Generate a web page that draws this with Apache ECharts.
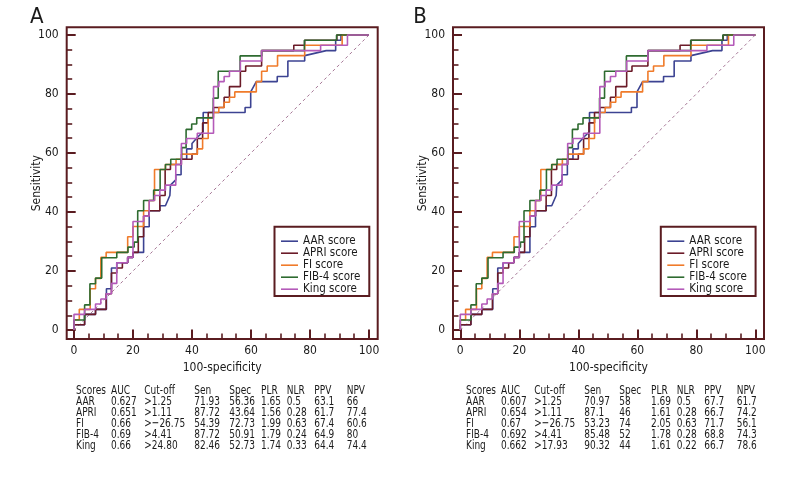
<!DOCTYPE html>
<html><head><meta charset="utf-8">
<script src="https://cdn.jsdelivr.net/npm/echarts@6/dist/echarts.min.js"></script>
<style>html,body{margin:0;padding:0;background:#fff}#c{width:792px;height:480px}</style>
</head><body><div id="c"></div>
<script>
// ---------------- data ----------------
const seriesNames = ['AAR score', 'APRI score', 'FI score', 'FIB-4 score', 'King score'];
const panelLabels = ['A', 'B'];

const rocAAR = [[0,0],[0,1.8],[3.6,1.8],[3.6,5.3],[7.3,5.3],[7.3,7],[11,7],[11,14],[12.7,14],[12.7,21],[14.5,21],[14.5,22.8],[18.2,22.8],[18.2,24.6],[20,24.6],[20,26.3],[23.6,26.3],[23.6,35],[25.5,35],[25.5,40.4],[29.1,40.4],[29.1,42.1],[31,42.1],[32.5,45.6],[32.7,49.1],[34.5,50.9],[34.5,52.6],[36.3,52.6],[36.3,57.9],[38.2,57.9],[38.2,61.4],[40,61.4],[40,63.2],[42,65.5],[43.8,67.2],[43.8,73.7],[58,73.7],[58,75.4],[59.9,75.4],[59.9,80.7],[61.8,84.2],[68.9,84.2],[68.9,85.9],[72.5,85.9],[72.5,91.2],[78.2,91.2],[78.2,93],[85.5,94.7],[88.7,94.7],[88.7,98.2],[90.5,98.2],[90.5,100],[100,100]];
const rocAPRI = [[0,0],[0,1.8],[3.6,1.8],[3.6,5.3],[7.3,5.3],[7.3,7],[10.9,7],[10.9,12.3],[12.7,12.3],[12.7,19.3],[14.5,19.3],[14.5,21],[16.4,21],[16.4,22.8],[18.2,22.8],[18.2,24.6],[20,24.6],[20,26.3],[21.8,26.3],[21.8,31.6],[23.6,31.6],[23.6,38.6],[25.5,38.6],[25.5,40.4],[29.1,40.4],[29.1,45.6],[30.9,45.6],[30.9,54.4],[32.7,54.4],[32.7,56.1],[36.4,56.1],[36.4,57.9],[40,57.9],[40,59.6],[41.8,59.6],[41.8,64.9],[43.6,64.9],[43.6,70.2],[45.5,70.2],[45.5,73.7],[47.3,73.7],[47.3,75.4],[50.9,75.4],[50.9,78.9],[52.7,78.9],[52.7,82.5],[56.4,82.5],[56.4,87.7],[58.2,87.7],[58.2,89.5],[63.6,89.5],[63.6,94.7],[74.5,94.7],[74.5,96.5],[78.2,96.5],[78.2,98.2],[89.1,98.2],[89.1,100],[100,100]];
const rocFI = [[0,0],[0,3.5],[1.8,3.5],[1.8,7],[5.5,7],[5.5,14],[7.3,14],[7.3,17.5],[9.1,17.5],[9.1,24.6],[10.9,24.6],[10.9,26.3],[14.5,26.3],[18.2,26.3],[18.2,31.6],[20,31.6],[20,35.1],[23.6,35.1],[23.6,40.4],[25.5,40.4],[25.5,43.9],[27.3,43.9],[27.3,54.4],[31,54.4],[31,56.1],[34.6,56.1],[34.6,57.9],[36.4,57.9],[36.4,59.6],[41.8,59.6],[41.8,61.4],[43.6,61.4],[43.6,64.9],[45.5,64.9],[45.5,72],[47.3,72],[47.3,73.7],[49.1,73.7],[49.1,75.4],[50.9,75.4],[50.9,77.2],[52.7,77.2],[52.7,78.9],[54.5,78.9],[54.5,80.7],[61.8,80.7],[61.8,84.2],[63.6,84.2],[63.6,87.7],[65.5,87.7],[65.5,89.5],[69,89.5],[69,93],[78.2,93],[78.2,96.5],[90.9,96.5],[90.9,100],[100,100]];
const rocFIB4 = [[0,0],[0,3.4],[3.6,3.4],[3.6,8.5],[5.4,8.5],[5.4,15.7],[7.3,15.7],[7.3,17.6],[9.4,17.6],[9.4,24.5],[14.5,24.5],[14.5,26.3],[18.3,26.3],[18.3,28.1],[20.4,28.1],[20.4,29.8],[21.6,29.8],[21.6,40.4],[23.6,40.4],[23.6,43.9],[27,43.9],[27,47.4],[29.2,47.4],[29.2,54.4],[31,54.4],[31,56.1],[32.8,56.1],[32.8,57.9],[36.5,57.9],[36.5,61.8],[38,61.8],[38,68],[39.9,68],[39.9,69.8],[41.6,69.8],[41.6,71.9],[47.2,71.9],[47.2,78.6],[48.9,78.6],[48.9,87.7],[56.3,87.7],[56.3,92.9],[63.6,92.9],[63.6,94.7],[78.1,94.7],[78.1,98.2],[89,98.2],[89,100],[100,100]];
const rocKing = [[0,0],[0,5.3],[3.6,5.3],[3.6,7],[7.3,7],[7.3,8.8],[9.1,8.8],[9.1,10.5],[10.9,10.5],[10.9,12.3],[12.7,12.3],[12.7,15.8],[14.5,15.8],[14.5,22.8],[18.2,22.8],[18.2,24.6],[20,24.6],[20,36.8],[23.6,36.8],[23.6,38.6],[25.5,38.6],[25.5,43.9],[27.3,43.9],[27.3,45.6],[29.1,45.6],[29.1,47.4],[31,47.4],[31,49.1],[34.5,49.1],[34.5,56.1],[36.4,56.1],[36.4,63.2],[38.2,63.2],[38.2,64.9],[41.8,64.9],[41.8,66.7],[47.3,66.7],[47.3,82.5],[49.1,82.5],[49.1,84.2],[50.9,84.2],[50.9,85.9],[52.7,85.9],[52.7,87.7],[56.4,87.7],[56.4,91.2],[63.6,91.2],[63.6,94.7],[83.6,94.7],[83.6,96.5],[92.7,96.5],[92.7,100],[100,100]];
const rocReference = [[0,0],[100,100]];

const majorTicks = [0, 20, 40, 60, 80, 100];
const minorTicks = [5,10,15,25,30,35,45,50,55,65,70,75,85,90,95];

const tableHeader = ['Scores','AUC','Cut-off','Sen','Spec','PLR','NLR','PPV','NPV'];
const tableRowsA = [
  ['AAR','0.627','>1.25','71.93','56.36','1.65','0.5','63.1','66'],
  ['APRI','0.651','>1.11','87.72','43.64','1.56','0.28','61.7','77.4'],
  ['FI','0.66','>\u221226.75','54.39','72.73','1.99','0.63','67.4','60.6'],
  ['FIB-4','0.69','>4.41','87.72','50.91','1.79','0.24','64.9','80'],
  ['King','0.66','>24.80','82.46','52.73','1.74','0.33','64.4','74.4']
];
const tableRowsB = [
  ['AAR','0.607','>1.25','70.97','58','1.69','0.5','67.7','61.7'],
  ['APRI','0.654','>1.11','87.1','46','1.61','0.28','66.7','74.2'],
  ['FI','0.67','>\u221226.75','53.23','74','2.05','0.63','71.7','56.1'],
  ['FIB-4','0.692','>4.41','85.48','52','1.78','0.28','68.8','74.3'],
  ['King','0.662','>17.93','90.32','44','1.61','0.22','66.7','78.6']
];

// ---------------- styling / layout ----------------
const FONT = "'DejaVu Sans Condensed','Liberation Sans Narrow',sans-serif";
const FRAME = '#5a1c20';
const TXT = '#1a1a1a';
const colors = ['#3c4392', '#6b1b28', '#f07b2a', '#2e6b30', '#b45ab9'];
const rocData = [rocAAR, rocAPRI, rocFI, rocFIB4, rocKing];

const panelOffsets = [0, 386.3];
const tableOffsets = [0, 390];
const gridW = 311, gridH = 311.7, gridL = 66.7, gridT = 27.3;
const xMin = -2.47, xMax = 102.95, yMin = -3.05, yMax = 102.6;

const grids = [], xAxes = [], yAxes = [], series = [], legends = [], graphics = [];

panelOffsets.forEach((off, p) => {
  grids.push({left: gridL + off, top: gridT, width: gridW, height: gridH, show: true,
    borderColor: FRAME, borderWidth: 2, backgroundColor: 'transparent'});
  const base = {gridIndex: p, type: 'value', min: xMin, max: xMax, splitLine: {show: false},
    axisLine: {show: false, onZero: false}, position: 'bottom'};
  xAxes.push(Object.assign({}, base, {
    name: '100-specificity', nameLocation: 'middle', nameGap: 23, nameMoveOverlap: false,
    nameTextStyle: {fontFamily: FONT, fontSize: 12, color: TXT},
    axisTick: {show: true, inside: true, length: 9.5, customValues: majorTicks, lineStyle: {color: FRAME, width: 2}},
    axisLabel: {customValues: majorTicks, fontFamily: FONT, fontSize: 12, color: TXT, margin: 6}
  }));
  xAxes.push(Object.assign({}, base, {
    axisTick: {show: true, inside: true, length: 5.5, customValues: minorTicks, lineStyle: {color: FRAME, width: 1.6}},
    axisLabel: {show: false}
  }));
  const ybase = {gridIndex: p, type: 'value', min: yMin, max: yMax, splitLine: {show: false},
    axisLine: {show: false, onZero: false}, position: 'left'};
  yAxes.push(Object.assign({}, ybase, {
    name: 'Sensitivity', nameLocation: 'middle', nameGap: 24, nameRotate: 90, nameMoveOverlap: false,
    nameTextStyle: {fontFamily: FONT, fontSize: 12, color: TXT},
    axisTick: {show: true, inside: true, length: 9, customValues: majorTicks, lineStyle: {color: FRAME, width: 2}},
    axisLabel: {customValues: majorTicks, fontFamily: FONT, fontSize: 12, color: TXT, margin: 8}
  }));
  yAxes.push(Object.assign({}, ybase, {
    axisTick: {show: true, inside: true, length: 5.5, customValues: minorTicks, lineStyle: {color: FRAME, width: 1.6}},
    axisLabel: {show: false}
  }));

  series.push({type: 'line', name: 'reference', xAxisIndex: 2*p, yAxisIndex: 2*p, data: rocReference,
    symbol: 'none', silent: true, lineStyle: {color: '#a67796', width: 1, type: [3, 3]}, z: 1});
  seriesNames.forEach((nm, i) => {
    series.push({type: 'line', name: nm, xAxisIndex: 2*p, yAxisIndex: 2*p, data: rocData[i],
      symbol: 'none', showSymbol: false, color: colors[i],
      lineStyle: {color: colors[i], width: 1.6}, z: 2 + i});
  });

  // legend box
  graphics.push({type: 'rect', shape: {x: 274.5 + off, y: 226.7, width: 94.8, height: 69.3},
    style: {fill: '#fff', stroke: FRAME, lineWidth: 2}, z: 5});
  legends.push({data: seriesNames, orient: 'vertical', left: 281 + off, top: 235.2, padding: 0,
    itemGap: 0, itemWidth: 17, itemHeight: 1.6, icon: 'rect', selectedMode: false, z: 10,
    textStyle: {fontFamily: FONT, fontSize: 11.5, color: TXT, lineHeight: 11.6}});

  // panel letter
  graphics.push({type: 'text', left: 30 + off*0.992, top: 6,
    style: {text: panelLabels[p], font: "22px " + FONT, fill: TXT}});

  // table
  const colX = [76, 111, 144.3, 194.3, 229.3, 261, 286.7, 314.3, 346.7];
  const rows = [tableHeader].concat(p === 0 ? tableRowsA : tableRowsB);
  rows.forEach((row, r) => {
    row.forEach((cell, c) => {
      graphics.push({type: 'text', x: colX[c] + tableOffsets[p], y: 390.6 + r * 10.95, scaleX: 0.77,
        style: {text: cell, font: "13px " + FONT, fill: TXT, textAlign: 'left', textVerticalAlign: 'middle'}});
    });
  });
});

const chart = echarts.init(document.getElementById('c'), null, {renderer: 'canvas'});
chart.setOption({
  animation: false,
  backgroundColor: '#fff',
  grid: grids, xAxis: xAxes, yAxis: yAxes, series: series, legend: legends,
  graphic: {elements: graphics}
});
</script>
</body></html>
